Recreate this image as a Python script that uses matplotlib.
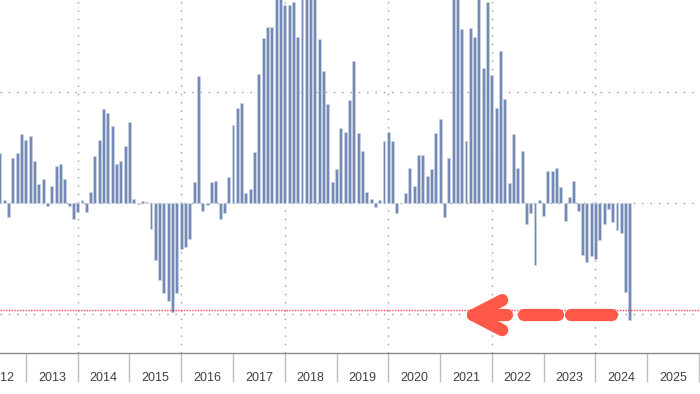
import numpy as np
import matplotlib
matplotlib.use("Agg")
import matplotlib.pyplot as plt
import pandas as pd

# monthly values, Jun 2012 .. Aug 2024 (grid step = 10)
start_month = "2012-06"
values = [
    4.5, 0.3, -1.3, 4.1, 4.5, 6.2, 5.7,                                 # 2012 Jun-Dec
    6.0, 3.8, 1.7, 2.2, -0.3, 1.5, 3.3, 3.5, 2.2, -0.3, -1.4, -0.8,     # 2013
    0.3, -0.8, 1.0, 4.2, 5.7, 8.5, 8.1, 6.9, 3.5, 3.8, 5.1, 7.3,        # 2014
    0.4, -0.1, 0.2, 0.1, -2.3, -5.1, -6.9, -8.1, -8.8, -9.8, -8.1, -4.1, # 2015
    -4.0, -3.2, 1.9, 11.4, -0.7, -0.2, 1.9, 2.0, -1.4, -0.9, 2.3, 7.0,  # 2016
    8.6, 9.0, 0.9, 1.3, 4.6, 11.6, 14.9, 15.9, 15.9, 19.5, 19.0, 17.8,  # 2017
    17.8, 18.1, 15.0, 19.2, 20.0, 19.6, 18.8, 14.8, 11.9, 8.9, 1.9, 3.1, # 2018
    6.8, 6.4, 9.3, 12.8, 6.3, 4.7, 1.0, 0.4, -0.4, 0.3, 5.6, 6.4,       # 2019
    5.6, -0.9, 0.0, 0.9, 3.2, 1.5, 4.3, 4.3, 2.4, 3.1, 6.3, 7.6,        # 2020
    -1.3, 4.1, 21.0, 19.5, 15.7, 5.6, 15.8, 15.0, 18.6, 12.2, 18.1, 11.5, # 2021
    8.6, 13.7, 9.4, 1.8, 6.2, 3.2, 4.7, -1.9, -0.9, -5.6, 0.3, -1.2,    # 2022
    2.9, 2.9, 3.2, 1.4, -1.6, 0.5, 2.0, -0.7, -4.7, -5.3, -4.8, -5.0,   # 2023
    -3.3, -1.9, -0.5, -1.7, -2.4, -2.7, -8.0, -10.5,                    # 2024 Jan-Aug
]
prev_low = -9.6
year_labels = list(range(2012, 2026))

# bars sit at month end, in fractional years
months = pd.period_range(start_month, periods=len(values), freq="M")
x = np.array([p.year + p.month / 12 for p in months])

bar_col = "#738bb4"
grid_col = "#9a9a9a"

fig = plt.figure(figsize=(7, 3.94), dpi=100)
ax = fig.add_axes([0, 41 / 394, 1, 353 / 394])

ax.bar(x, values, width=0.057, color=bar_col, edgecolor="#d0d8e8",
       linewidth=0.4, zorder=3)

ax.set_xlim(2012.518, 2026.02)
ax.set_ylim(-13.51, 18.29)

# dotted grid
for yv in [-10, 0, 10]:
    ax.axhline(yv, color=grid_col, lw=1.0, ls=(0, (1, 5)), zorder=1)
for xv in range(2014, 2026, 2):
    ax.axvline(xv, color=grid_col, lw=1.0, ls=(0, (1, 5)), zorder=1)

# previous low marker
ax.axhline(prev_low, color="#ff3a5c", lw=1.0, ls=(0, (1, 1)), zorder=4)

# big dashed arrow pointing back to the 2015 low
arrow_col = "#ff5848"
ay = -10.1
kw = dict(color=arrow_col, lw=8.8, solid_capstyle="round", zorder=6)
ax.plot([2021.64, 2022.20], [ay, -8.75], **kw)
ax.plot([2021.64, 2022.20], [ay, -11.45], **kw)
ax.plot([2021.64, 2022.30], [ay, ay], **kw)
ax.plot([2022.62, 2023.27], [ay, ay], **kw)
ax.plot([2023.53, 2024.32], [ay, ay], **kw)

# axis: long separators at year boundaries, labels at mid-year
for s in ["top", "left", "right"]:
    ax.spines[s].set_visible(False)
ax.spines["bottom"].set_color("#8c8c8c")
ax.spines["bottom"].set_linewidth(1.0)
ax.set_yticks([])
ax.set_xticks(range(2013, 2027))
ax.set_xticklabels([])
ax.tick_params(axis="x", which="major", length=21, width=1.0, color="#bdbdbd")
ax.set_xticks([y + 0.5 for y in year_labels], minor=True)
ax.set_xticklabels([str(y) for y in year_labels], minor=True,
                   fontsize=9, color="#404040", family="Liberation Sans")
ax.tick_params(axis="x", which="minor", length=0, pad=14)

fig.savefig("out.png", dpi=100)
